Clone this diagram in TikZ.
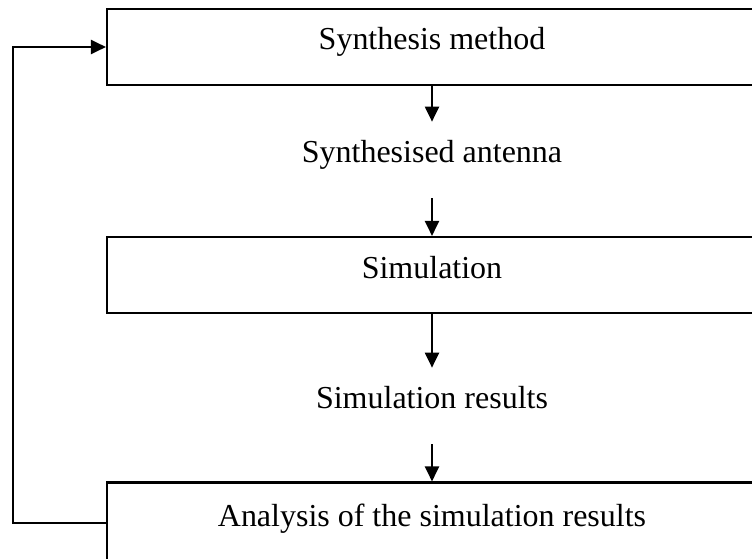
\documentclass[tikz,border=0pt]{standalone}
\usepackage{fontspec}
\setmainfont{Liberation Serif}
\usetikzlibrary{arrows.meta}

\tikzset{
	stagebox/.style={draw, very thick, minimum width=13cm, minimum height=1.52cm, text height=.44cm, text depth=.32cm},
	resulttext/.style={inner sep=.36cm, text height=.44cm, text depth=.36cm}
}

\begin{document}
\begin{tikzpicture}[>={Triangle[length=3mm,width=2.8mm]}, font=\fontsize{18.2}{22}\selectfont]
			\useasboundingbox (0, 0) rectangle (15.04, 11.16);
			\clip (0, 0) rectangle (15.04, 11.16);
			\node[stagebox] (synth) at (8.64, 10.22) {Synthesis method};
			\node[resulttext] (antenna) at (8.64, 7.96) {Synthesised antenna};
			\node[stagebox] (sim) at (8.64, 5.66) {Simulation};
			\node[resulttext] (simres) at (8.64, 3.04) {Simulation results};
			\node[stagebox, minimum height=1.62cm] (analysis) at (8.64, .7) {Analysis of the simulation results};
			\draw[->,very thick] (synth) -- (antenna);
			\draw[->,very thick] (antenna) -- (sim);
			\draw[->,very thick] (sim) -- (simres);
			\draw[->,very thick] (simres) -- (analysis);
			% back to the synthesis
			\coordinate (loop) at (.26, 10.22);
			\draw[->,very thick] (analysis.west) -| (loop) -- (synth.west);
		\end{tikzpicture}
\end{document}
